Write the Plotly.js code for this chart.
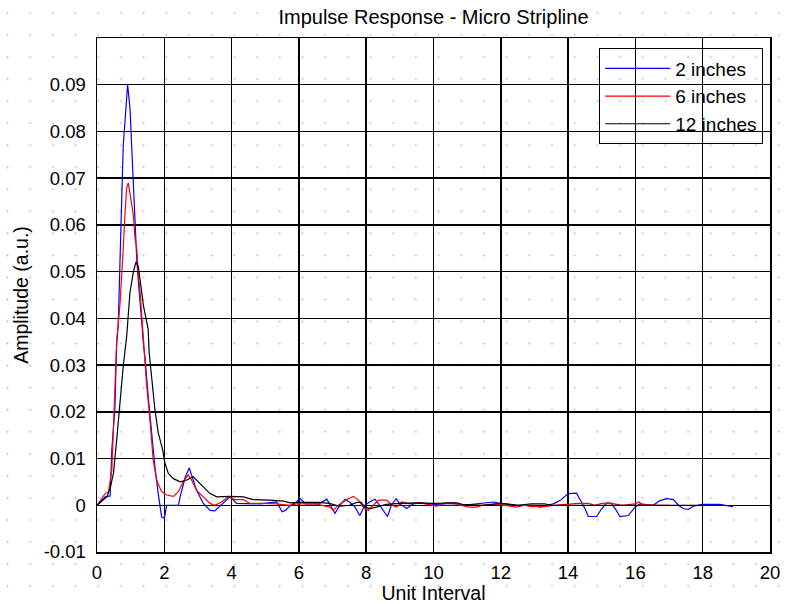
<!DOCTYPE html>
<html>
<head>
<meta charset="utf-8">
<script src="https://cdn.plot.ly/plotly-3.0.1.min.js"></script>
<style>
html, body { margin: 0; padding: 0; }
body {
  width: 786px; height: 604px; overflow: hidden;
  background-color: #ffffff;
  background-image: radial-gradient(circle, #b8b8b8 0px, #c4c4c4 0.7px, rgba(255,255,255,0) 1.3px);
  background-size: 22.7px 22.05px;
  background-position: -3.85px 1.9px;
}
#chart { width: 786px; height: 604px; }
#chart .gridlayer path { shape-rendering: crispEdges; }
</style>
</head>
<body>
<div id="chart"></div>
<script>
// Series: 2 inches (blue)
const x2in = [0,0.24,0.39,0.44,0.53,0.585,0.63,0.68,0.73,0.78,0.86,0.91,0.98,1.03,1.08,1.13,1.18,1.23,1.28,1.33,1.38,1.43,1.53,1.62,1.72,1.82,1.92,2.0,2.07,2.2,2.42,2.47,2.62,2.74,2.86,2.96,3.16,3.36,3.5,3.74,3.95,4.15,4.5,4.85,5.34,5.5,5.6,5.75,5.93,6.03,6.2,6.6,6.83,6.93,7.07,7.22,7.37,7.5,7.65,7.81,7.96,8.1,8.26,8.4,8.5,8.63,8.75,8.89,9.0,9.2,9.4,9.6,10.0,10.4,11.0,11.78,12.0,12.5,13.0,13.17,13.56,13.76,14.0,14.25,14.35,14.5,14.6,14.85,15.0,15.15,15.28,15.4,15.54,15.79,15.99,16.14,16.53,16.73,16.93,17.13,17.28,17.42,17.57,17.72,18.0,18.5,18.9];
const y2in = [0,0.0018,0.002,0.0118,0.0205,0.0345,0.0384,0.0492,0.0643,0.077,0.0858,0.090,0.085,0.0765,0.070,0.060,0.0528,0.0478,0.0442,0.0392,0.0345,0.0313,0.0226,0.0155,0.0083,0.0025,-0.0025,-0.0028,0.0,0.0,0.0,0.0018,0.006,0.008,0.0054,0.0032,0.0004,-0.0011,-0.0012,0.0004,0.0018,0.0004,0.0004,0.0003,0.0007,-0.0014,-0.0011,0.0,0.0007,0.0015,0.0003,0.0003,0.0013,0.0,-0.0017,0.0,0.0013,0.0007,-0.0002,-0.0022,0.0,0.0007,0.0013,0.0,-0.001,-0.0024,0.0,0.0014,0.0003,-0.0007,0.0003,0.0005,0.0002,0.0,0.0001,0.0007,0.0004,0.0,0.0,-0.0004,0.0003,0.001,0.0025,0.0026,0.0013,-0.0007,-0.0024,-0.0024,-0.0007,0.0005,0.0004,-0.0007,-0.0024,-0.0022,-0.0004,0.0003,0.0,0.001,0.0014,0.0012,0.0,-0.0007,-0.0009,-0.0002,0.0002,0.0002,-0.0003];

// Series: 6 inches (red)
const x6in = [0,0.24,0.34,0.44,0.49,0.53,0.585,0.68,0.73,0.78,0.83,0.88,0.93,0.98,1.03,1.08,1.13,1.18,1.23,1.28,1.33,1.38,1.47,1.58,1.67,1.77,1.92,2.07,2.27,2.42,2.56,2.71,2.81,2.96,3.16,3.36,3.5,3.7,3.9,4.1,4.35,4.55,4.94,5.34,5.74,5.93,6.5,6.92,7.02,7.17,7.32,7.47,7.62,7.77,7.91,8.06,8.21,8.36,8.61,8.76,8.91,9.05,9.3,9.6,9.9,10.1,10.34,10.59,10.79,11.08,11.28,11.5,11.88,12.27,12.47,12.7,12.9,13.3,13.6,14.3,14.6,14.8,15.0,15.3,15.6,16.0,16.1,16.2,16.6,17.0];
const y6in = [0,0.0025,0.0029,0.0075,0.0169,0.0248,0.0352,0.0427,0.0478,0.055,0.0621,0.0679,0.069,0.0664,0.0643,0.0621,0.0571,0.055,0.0492,0.0457,0.0406,0.0348,0.0262,0.0177,0.0097,0.0054,0.0029,0.0022,0.0019,0.0029,0.005,0.0065,0.0054,0.0032,0.0018,0.0004,0.0,0.0007,0.0018,0.0012,0.0012,0.0004,0.0004,0.0003,0.0,0.0003,0.0003,-0.0004,-0.0011,0.0,0.0007,0.0014,0.0019,0.0011,-0.0004,-0.0011,0.0,0.0011,0.0011,0.0,-0.0004,0.0007,0.0003,0.0005,0.0001,-0.0002,0.0005,0.0005,0.0,-0.0004,-0.0004,0.0001,0.0003,-0.0002,-0.0004,0.0,-0.0003,-0.0003,0.0,0.0004,0.0004,0.0,0.0004,0.0004,0.0,0.0003,0.0007,0.0002,0.0,0.0];

// Series: 12 inches (black)
const x12in = [0,0.29,0.39,0.49,0.585,0.68,0.78,0.88,0.98,1.08,1.16,1.23,1.28,1.38,1.46,1.52,1.55,1.63,1.72,1.82,1.95,2.02,2.12,2.27,2.47,2.67,2.86,3.01,3.16,3.36,3.56,3.95,4.35,4.64,5.14,5.54,5.74,6.0,6.6,6.9,7.22,7.5,7.72,7.85,7.96,8.11,8.3,8.6,9.0,9.5,10.0,10.4,10.69,10.85,11.5,12.0,12.5,12.9,13.3,13.5,14.5,16.0,17.0,18.0];
const y12in = [0,0.0018,0.0036,0.0069,0.014,0.0226,0.0298,0.036,0.0456,0.0499,0.0521,0.051,0.0478,0.0427,0.0399,0.0377,0.0327,0.0262,0.0205,0.0155,0.0119,0.009,0.0068,0.0057,0.005,0.0054,0.0061,0.005,0.0039,0.0025,0.0018,0.0019,0.0018,0.0012,0.0011,0.0009,0.0005,0.0006,0.0006,0.0004,-0.0002,0.0,0.0006,0.0006,-0.0004,-0.0007,-0.0004,0.0002,0.0004,0.0005,0.0004,0.0004,0.0005,0.0002,0.0,0.0004,0.0,0.0003,0.0003,0.0,0.0,0.0,0.0,0.0];

const seriesNames = ['2 inches', '6 inches', '12 inches'];
const seriesColors = ['#0000ff', '#ff0000', '#000000'];
const xTickVals = [0,2,4,6,8,10,12,14,16,18,20];
const yTickVals = [-0.01,0,0.01,0.02,0.03,0.04,0.05,0.06,0.07,0.08,0.09];
const yTickText = ['-0.01','0','0.01','0.02','0.03','0.04','0.05','0.06','0.07','0.08','0.09'];

const xs = [x2in, x6in, x12in];
const ys = [y2in, y6in, y12in];

const FONT = 'Liberation Sans, Arial, sans-serif';

const traces = seriesNames.map((name, i) => ({
  type: 'scatter', mode: 'lines', name: name,
  x: xs[i], y: ys[i],
  line: { color: seriesColors[i], width: 1.2 },
  legendgroup: 'g' + i
}));

const axisCommon = {
  showgrid: true, gridcolor: '#000000', gridwidth: 1.5,
  zeroline: false, showline: true, linecolor: '#000000', linewidth: 1.5, mirror: true,
  ticks: '', tickfont: { family: FONT, size: 18.5, color: '#000' }
};

const layout = {
  width: 786, height: 604,
  margin: { l: 97, r: 16, t: 38, b: 52 },
  paper_bgcolor: 'rgba(0,0,0,0)', plot_bgcolor: 'rgba(0,0,0,0)',
  font: { family: FONT, size: 18, color: '#000' },
  title: { text: 'Impulse Response - Micro Stripline', font: { family: FONT, size: 20, color: '#000' },
           x: 0.5, xref: 'paper', xanchor: 'center', y: 0.972, yref: 'container', yanchor: 'middle' },
  xaxis: Object.assign({}, axisCommon, {
    range: [0, 20], tickvals: xTickVals, ticklabelstandoff: 3,
    title: { text: 'Unit Interval', font: { family: FONT, size: 19.5, color: '#000' }, standoff: 2 }
  }),
  yaxis: Object.assign({}, axisCommon, {
    range: [-0.01, 0.1], tickvals: yTickVals, ticktext: yTickText, ticklabelstandoff: 6,
    title: { text: 'Amplitude (a.u.)', font: { family: FONT, size: 19.5, color: '#000' }, standoff: 10 }
  }),
  showlegend: true,
  legend: {
    x: 0.9896, xanchor: 'right', y: 0.98, yanchor: 'top',
    bgcolor: 'rgba(0,0,0,0)', bordercolor: '#000', borderwidth: 1.2,
    font: { family: FONT, size: 19, color: '#000' },
    itemwidth: 65, tracegroupgap: 0
  }
};

Plotly.newPlot('chart', traces, layout, { staticPlot: true, displayModeBar: false });
</script>
</body>
</html>
